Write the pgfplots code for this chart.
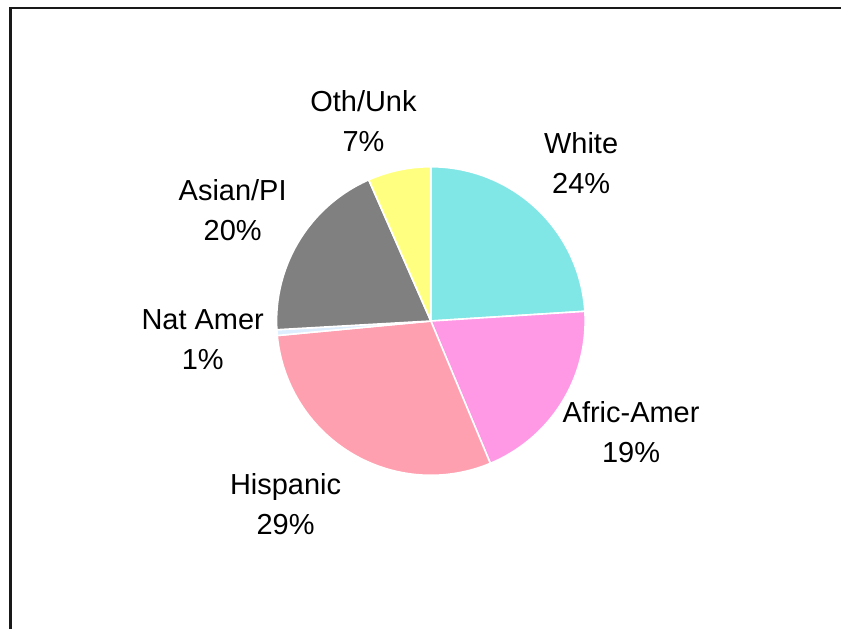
\documentclass[border=0pt]{standalone}
\usepackage{pgfplots}
\pgfplotsset{compat=1.18}
\usepackage{pgfplotstable}
\usepackage{fontspec}
\setmainfont{Liberation Sans}

\definecolor{cWhite}{RGB}{128,230,230}
\definecolor{cAfric}{RGB}{255,153,230}
\definecolor{cHisp}{RGB}{255,160,176}
\definecolor{cNat}{RGB}{221,238,255}
\definecolor{cAsian}{RGB}{128,128,128}
\definecolor{cOth}{RGB}{255,255,128}

\tikzset{lbl/.style={font=\fontsize{29}{40}\selectfont, align=center, inner sep=0pt}}

% share of each group, clockwise from 12 o'clock
\pgfplotstableread{
name    value color
White   24.0  cWhite
Afric   19.7  cAfric
Hisp    29.8  cHisp
NatAmer 0.6   cNat
Asian   19.3  cAsian
Oth     6.6   cOth
}\piedata

\begin{document}
\begin{tikzpicture}
\begin{axis}[
  width=842pt, height=630pt, scale only axis,
  xmin=0, xmax=842, ymin=0, ymax=630,
  hide axis, clip=false,
]
  \def\cx{431.5}\def\cy{308.5}\def\r{154.5}
  \def\acc{90}
  \pgfplotsforeachungrouped \i in {0,...,5}{
    \pgfplotstablegetelem{\i}{value}\of\piedata \let\v\pgfplotsretval
    \pgfplotstablegetelem{\i}{color}\of\piedata \let\c\pgfplotsretval
    \pgfmathsetmacro\aend{\acc}
    \pgfmathsetmacro\astart{\acc-3.6*\v}
    \edef\cmd{\noexpand\addplot[fill=\c, draw=white, line width=1.6pt,
        line join=round, domain=\astart:\aend, samples=80, variable=\noexpand\t]
      ({\cx+\r*cos(\noexpand\t)}, {\cy+\r*sin(\noexpand\t)})
      -- (axis cs:\cx,\cy) -- cycle;}
    \cmd
    \global\let\acc\astart
  }

  % labels
  \node[lbl] at (axis cs:364,509)   {Oth/Unk\\7\%};
  \node[lbl] at (axis cs:582,467)   {White\\24\%};
  \node[lbl] at (axis cs:233,420)   {Asian/PI\\20\%};
  \node[lbl] at (axis cs:203,289.5) {Nat Amer\\1\%};
  \node[lbl] at (axis cs:632,197.5) {Afric-Amer\\19\%};
  \node[lbl] at (axis cs:286,125.5) {Hispanic\\29\%};

  % frame (top and left edges)
  \draw[black!90, line width=2.5pt] (axis cs:10.5,0) -- (axis cs:10.5,622) -- (axis cs:842,622);
  \path (axis cs:0,0) (axis cs:842,630);
\end{axis}
\end{tikzpicture}
\end{document}
